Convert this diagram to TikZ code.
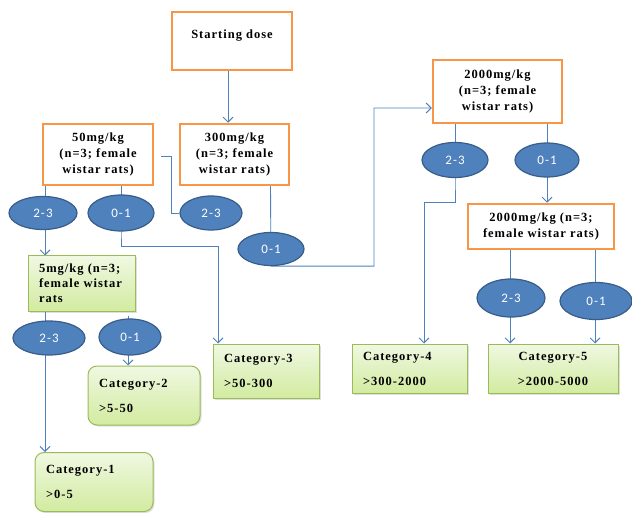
\documentclass[tikz,border=0pt]{standalone}
\usepackage{fontspec}
\setmainfont{Liberation Serif}
\newfontfamily\boxfont[LetterSpace=8]{Liberation Serif}
\newfontfamily\ellfont[LetterSpace=8]{Carlito}
\usetikzlibrary{arrows.meta,shapes.geometric,backgrounds,shadows,calc}
\definecolor{lineblue}{RGB}{79,129,189}
\definecolor{ellfill}{RGB}{79,129,189}
\definecolor{elldraw}{RGB}{56,93,138}
\definecolor{orng}{RGB}{247,150,70}
\definecolor{grnborder}{RGB}{155,187,89}
\definecolor{grntop}{RGB}{240,248,226}
\definecolor{grnbot}{RGB}{210,235,160}
\begin{document}
\begin{tikzpicture}[x=1pt,y=-1pt,
  obox/.style={draw=orng, line width=2.5pt, fill=white, inner sep=0pt, align=center,
    font=\boxfont\fontsize{12.5}{16}\selectfont\bfseries},
  gbox/.style={draw=grnborder, line width=1pt, top color=grntop, bottom color=grnbot,
    inner sep=0pt, inner xsep=11pt, align=left,
    font=\boxfont\fontsize{12.5}{15}\selectfont\bfseries,
    drop shadow={shadow xshift=1.5pt, shadow yshift=-1.5pt, opacity=0.25}},
  ell/.style={ellipse, draw=elldraw, line width=1.2pt, fill=ellfill, text=white, inner sep=0pt,
    font=\ellfont\fontsize{13}{15}\selectfont},
  conn/.style={draw=lineblue, line width=0.9pt},
  arr/.style={conn, -{Straight Barb[length=5pt,width=10pt]}}]
\useasboundingbox (0,0) rectangle (632,513);

% orange boxes
\node[obox, minimum width=120, minimum height=58] (start) at (232,41) {Starting dose\\[-2pt]\phantom{x}};
\node[obox, minimum width=110, minimum height=61] (m50) at (98,154.5) {50mg/kg\\(n=3; female\\wistar rats)};
\node[obox, minimum width=109, minimum height=61] (m300) at (234.5,154.5) {300mg/kg\\(n=3; female\\wistar rats)};
\node[obox, minimum width=129, minimum height=63] (m2000) at (497.5,91.5) {2000mg/kg\\(n=3; female\\wistar rats)};
\node[obox, minimum width=146, minimum height=45] (m2000b) at (541,226.5) {2000mg/kg (n=3;\\female wistar rats)};

% green boxes
\node[gbox, minimum width=107, minimum height=55, text width=85] (m5) at (81.5,283.5) {5mg/kg (n=3;\\female wistar\\rats};
\node[gbox, rounded corners=9pt, minimum width=112, minimum height=59, text width=90] (cat2) at (144,395.5) {Category-2\\[10pt]\textgreater5-50};
\node[gbox, rounded corners=9pt, minimum width=118, minimum height=59, text width=96] (cat1) at (94,482) {Category-1\\[10pt]\textgreater0-5};
\node[gbox, minimum width=106, minimum height=54, text width=84] (cat3) at (266,371) {Category-3\\[10pt]\textgreater50-300};
\node[gbox, minimum width=115, minimum height=49, text width=93] (cat4) at (409.5,368.5) {Category-4\\[10pt]\textgreater300-2000};
\node[gbox, minimum width=130, minimum height=49, text width=108, align=center] (cat5) at (553,368.5) {Category-5\\[10pt]\textgreater2000-5000};

% ellipses
\node[ell, minimum width=68, minimum height=33] (e1) at (43,213) {2-3};
\node[ell, minimum width=66, minimum height=36] (e2) at (121,213) {0-1};
\node[ell, minimum width=62, minimum height=34] (e3) at (211,213) {2-3};
\node[ell, minimum width=66, minimum height=33] (e4) at (271,249) {0-1};
\node[ell, minimum width=66, minimum height=35] (e5) at (455,160) {2-3};
\node[ell, minimum width=64, minimum height=34] (e6) at (547,160) {0-1};
\node[ell, minimum width=72, minimum height=34] (e7) at (49,338) {2-3};
\node[ell, minimum width=62, minimum height=36] (e8) at (130,337) {0-1};
\node[ell, minimum width=68, minimum height=38] (e9) at (511,298) {2-3};
\node[ell, minimum width=72, minimum height=37] (e10) at (596,301) {0-1};

% connectors
\begin{scope}[on background layer]
\draw[arr] ([xshift=-4pt]start.south) -- ([xshift=-4pt]start.south |- m300.north);
\draw[arr] ([xshift=-53pt]m50.south) -- ([xshift=-36.5pt]m5.north);
\draw[arr] (e2 |- m50.south) -- (e2.south) -- ++(0,15) -| ([xshift=-48pt]cat3.north);
\draw[conn, shorten <=7pt] ([yshift=-1.5pt]m50.east) -- ++(17,0) |- (e3.west);
\draw[arr] ([xshift=36pt]m300.south) -- (e4.south) -- ++(103,0) |- ([yshift=-16.5pt]m2000.west);
\draw[arr] (e5 |- m2000.south) -- (e5.south) -- ++(0,24) -| ([xshift=14.5pt]cat4.north);
\draw[arr] (e6 |- m2000.south) -- (e6 |- m2000b.north);
\draw[arr] ([xshift=-31pt]m2000b.south) -- ([xshift=-43pt]cat5.north);
\draw[arr] ([xshift=54pt]m2000b.south) -- ([xshift=42pt]cat5.north);
\draw[arr] ([xshift=-36.5pt]m5.south) -- ([xshift=-49pt]cat1.north);
\draw[arr] ([xshift=46.5pt,yshift=-4pt]m5.south) -- ([xshift=-16pt]cat2.north);
\end{scope}
\end{tikzpicture}
\end{document}
